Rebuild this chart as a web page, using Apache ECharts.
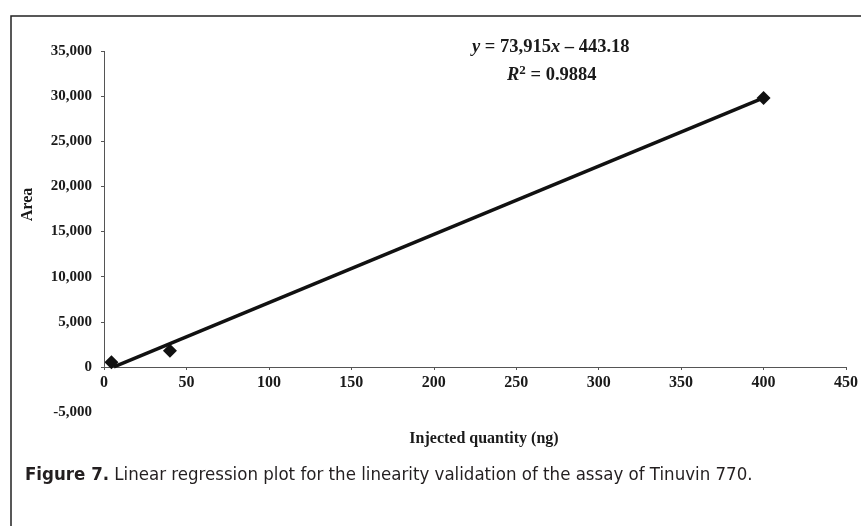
<!DOCTYPE html>
<html>
<head>
<meta charset="utf-8">
<style>
  html, body { margin: 0; padding: 0; background: #fff; }
  #chart { width: 861px; height: 526px; }
</style>
<script src="https://cdn.jsdelivr.net/npm/echarts@6/dist/echarts.min.js"></script>
</head>
<body>
<div id="chart"></div>
<script>
// measured points (injected ng, peak area)
var quantity = [4.5, 40, 400]
var area = [520, 1800, 29800]
// regression line as drawn on the figure
var fitX = [6, 400]
var fitY = [0, 29800]
var yTicks = [0, 5000, 10000, 15000, 20000, 25000, 30000, 35000]

var serif = '"Liberation Serif", "Times New Roman", serif'
var narrow = '"Liberation Sans Narrow", "DejaVu Sans Condensed", sans-serif'
var chart = echarts.init(document.getElementById('chart'))

chart.setOption({
  animation: false,
  grid: {
    left: 104,
    right: 5,
    top: 51,
    bottom: 114
  },
  xAxis: {
    type: 'value',
    min: 0,
    max: 450,
    interval: 50,
    offset: -45,
    name: 'Injected quantity (ng)',
    nameLocation: 'middle',
    nameGap: 64,
    nameTextStyle: {
      fontFamily: serif, fontWeight: 'bold', fontSize: 16, color: '#1a1a1a',
      padding: [0, 0, 0, 18]
    },
    axisLine: { onZero: false, lineStyle: { color: '#555', width: 1 } },
    axisTick: { show: true, length: 3, lineStyle: { color: '#555' } },
    axisLabel: { margin: 8, fontFamily: serif, fontWeight: 'bold', fontSize: 16, color: '#1a1a1a' },
    splitLine: { show: false }
  },
  yAxis: {
    type: 'value',
    min: -5000,
    max: 35000,
    interval: 5000,
    name: 'Area',
    nameLocation: 'middle',
    nameGap: 68,
    nameRotate: 90,
    nameTextStyle: {
      fontFamily: serif, fontWeight: 'bold', fontSize: 16, color: '#1a1a1a',
      padding: [0, 0, 0, 54]
    },
    axisLine: { show: false },
    axisTick: { show: true, length: 3, customValues: yTicks, lineStyle: { color: '#555' } },
    axisLabel: {
      margin: 12, fontFamily: serif, fontWeight: 'bold', fontSize: 15, color: '#1a1a1a',
      formatter: function (v) { return v.toLocaleString('en-US') }
    },
    splitLine: { show: false }
  },
  graphic: [
    {
      type: 'rect',
      silent: true,
      shape: { x: 11, y: 16, width: 1000, height: 1000 },
      style: { fill: 'none', stroke: '#222', lineWidth: 1.5 }
    },
    {
      type: 'text',
      left: 472,
      top: 38,
      style: {
        text: '{i|y} = 73,915{i|x} – 443.18',
        font: 'bold 18.5px ' + serif,
        fill: '#1a1a1a',
        rich: {
          i: { fontStyle: 'italic', fontWeight: 'bold', fontSize: 18.5, fontFamily: serif, fill: '#1a1a1a' }
        }
      }
    },
    {
      type: 'text',
      left: 507,
      top: 64,
      style: {
        text: '{i|R}{s|2}{n| = 0.9884}',
        fill: '#1a1a1a',
        rich: {
          i: { fontStyle: 'italic', fontWeight: 'bold', fontSize: 18.5, lineHeight: 22, fontFamily: serif, fill: '#1a1a1a' },
          s: { fontWeight: 'bold', fontSize: 13, lineHeight: 13, verticalAlign: 'top', fontFamily: serif, fill: '#1a1a1a' },
          n: { fontWeight: 'bold', fontSize: 18.5, lineHeight: 22, fontFamily: serif, fill: '#1a1a1a' }
        }
      }
    },
    {
      type: 'text',
      left: 25,
      top: 466,
      style: {
        text: '{b|Figure 7.} Linear regression plot for the linearity validation of the assay of Tinuvin 770.',
        font: '18.5px ' + narrow,
        fill: '#231f20',
        rich: {
          b: { fontWeight: 'bold', fontSize: 18.5, fontFamily: narrow, fill: '#231f20' }
        }
      }
    }
  ],
  series: [
    {
      name: 'Fit',
      type: 'line',
      data: fitX.map(function (x, i) { return [x, fitY[i]] }),
      showSymbol: false,
      symbol: 'none',
      lineStyle: { color: '#111', width: 3.5 },
      z: 2,
      markLine: {
        silent: true,
        symbol: 'none',
        label: { show: false },
        lineStyle: { color: '#555', width: 1, type: 'solid' },
        data: [[{ coord: [0, 0] }, { coord: [0, 35000] }]]
      }
    },
    {
      name: 'Area',
      type: 'scatter',
      data: quantity.map(function (x, i) { return [x, area[i]] }),
      symbol: 'diamond',
      symbolSize: 14,
      itemStyle: { color: '#111', opacity: 1 },
      z: 3
    }
  ]
})
</script>
</body>
</html>
